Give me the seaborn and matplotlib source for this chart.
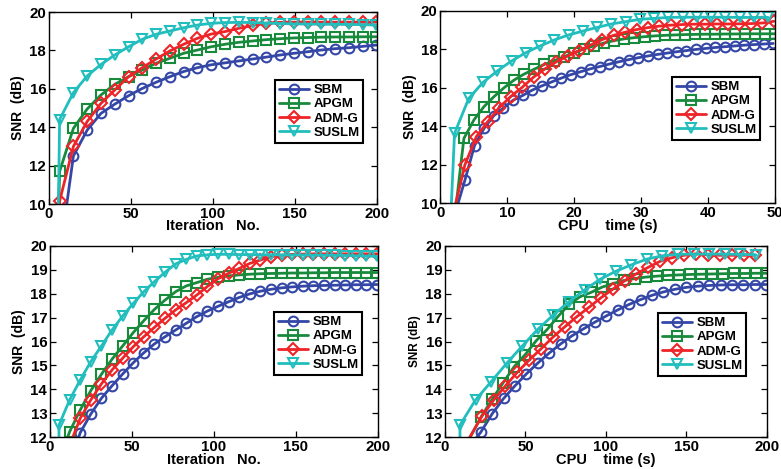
import numpy as np
import matplotlib
matplotlib.use("Agg")
import matplotlib.pyplot as plt
import seaborn as sns

# ---------------------------------------------------------------- data
methods = ["SBM", "APGM", "ADM-G", "SUSLM"]
colors = ["#3447a6", "#178a3c", "#ee2428", "#22bdbd"]
markers = ["o", "s", "D", "v"]

# (a) SNR vs iteration, image 1
it_a = np.round(6.5 + 8.4 * np.arange(24), 2)
snr_a_sbm = [7.3, 12.5, 13.85, 14.72, 15.2, 15.64, 16.02, 16.34, 16.63, 16.9, 17.1, 17.25,
             17.35, 17.45, 17.55, 17.65, 17.76, 17.85, 17.93, 18.02, 18.09, 18.14, 18.21, 18.28]
snr_a_apgm = [11.7, 13.94, 14.95, 15.68, 16.23, 16.63, 16.98, 17.33, 17.59, 17.85, 18.02, 18.19,
              18.32, 18.42, 18.49, 18.56, 18.61, 18.65, 18.67, 18.69, 18.7, 18.7, 18.71, 18.71]
snr_a_admg = [10.16, 13.0, 14.3, 15.24, 15.94, 16.63, 17.1, 17.55, 17.97, 18.32, 18.63, 18.85,
              18.98, 19.15, 19.3, 19.42, 19.46, 19.47, 19.47, 19.47, 19.47, 19.47, 19.47, 19.47]
snr_a_suslm = [14.4, 15.8, 16.67, 17.27, 17.76, 18.19, 18.58, 18.84, 19.01, 19.18, 19.32, 19.41,
               19.45, 19.46, 19.45, 19.42, 19.4, 19.38, 19.37, 19.36, 19.36, 19.35, 19.34, 19.32]
lead_a = [(6.0, 5.0), (5.6, 9.0), (6.0, 9.0), (5.6, 9.0)]

# (b) SNR vs CPU time, image 1
t_b_sbm = np.round(3.65 + 1.44 * np.arange(33), 2)
t_b_apgm = np.round(3.5 + 1.5 * np.arange(32), 2)
t_b_admg = np.round(3.65 + 1.71 * np.arange(28), 2)
t_b_suslm = np.round(2.1 + 2.13 * np.arange(23), 2)
snr_b_sbm = [11.2, 13.0, 13.9, 14.55, 14.95, 15.35, 15.6, 15.88, 16.1, 16.3, 16.5, 16.68, 16.83,
             16.98, 17.1, 17.23, 17.35, 17.46, 17.56, 17.65, 17.73, 17.8, 17.87, 17.93, 17.99,
             18.04, 18.09, 18.13, 18.17, 18.21, 18.24, 18.27, 18.3]
snr_b_apgm = [13.37, 14.33, 15.02, 15.54, 16.0, 16.4, 16.71, 16.96, 17.21, 17.4, 17.62, 17.82,
              18.02, 18.18, 18.33, 18.45, 18.54, 18.6, 18.65, 18.69, 18.72, 18.74, 18.76, 18.77,
              18.78, 18.78, 18.79, 18.79, 18.8, 18.8, 18.8, 18.8]
snr_b_admg = [12.0, 13.46, 14.24, 14.97, 15.54, 16.02, 16.55, 16.98, 17.35, 17.65, 17.93, 18.22,
              18.5, 18.72, 18.88, 19.02, 19.12, 19.2, 19.25, 19.28, 19.3, 19.3, 19.31, 19.31,
              19.32, 19.33, 19.36, 19.45]
snr_b_suslm = [13.63, 15.45, 16.28, 16.87, 17.39, 17.82, 18.17, 18.48, 18.74, 18.94, 19.13, 19.31,
               19.43, 19.55, 19.6, 19.65, 19.66, 19.66, 19.66, 19.66, 19.65, 19.65, 19.65]
lead_b = [(2.2, 9.5), (2.2, 9.5), (2.0, 9.6), (1.5, 9.0)]

# (c) SNR vs iteration, image 2
it_c = np.round(5.5 + 6.47 * np.arange(31), 2)
snr_c_sbm = [9.5, 10.8, 12.19, 12.97, 13.63, 14.15, 14.64, 15.11, 15.53, 15.9, 16.2, 16.48, 16.76,
             17.04, 17.27, 17.47, 17.66, 17.84, 17.99, 18.1, 18.18, 18.24, 18.28, 18.31, 18.33,
             18.34, 18.35, 18.36, 18.37, 18.37, 18.38]
snr_c_apgm = [11.0, 12.23, 13.14, 13.95, 14.63, 15.26, 15.81, 16.37, 16.87, 17.34, 17.73, 18.08,
              18.32, 18.46, 18.6, 18.68, 18.74, 18.78, 18.81, 18.83, 18.84, 18.85, 18.86, 18.86,
              18.87, 18.87, 18.88, 18.88, 18.88, 18.88, 18.88]
snr_c_admg = [10.5, 11.66, 12.79, 13.56, 14.23, 14.81, 15.3, 15.78, 16.2, 16.59, 16.97, 17.32,
              17.62, 17.94, 18.3, 18.62, 18.85, 19.05, 19.26, 19.4, 19.54, 19.6, 19.64, 19.65,
              19.66, 19.66, 19.66, 19.66, 19.66, 19.66, 19.66]
snr_c_suslm = [12.51, 13.56, 14.39, 15.16, 15.81, 16.48, 17.06, 17.59, 18.08, 18.5, 18.89, 19.24,
               19.43, 19.57, 19.62, 19.64, 19.64, 19.63, 19.63, 19.62, 19.62, 19.62, 19.61, 19.61,
               19.6, 19.6, 19.6, 19.59, 19.58, 19.57, 19.55]
lead_c = [(5.0, 9.0), (5.0, 9.0), (5.0, 9.0), (5.3, 9.0)]

# (d) SNR vs CPU time, image 2
t_d_sbm = np.round(22.2 + 7.1 * np.arange(26), 2)
t_d_apgm = np.round(22.5 + 6.83 * np.arange(27), 2)
t_d_admg = np.round(22.8 + 7.4 * np.arange(24), 2)
t_d_suslm = np.round(9.3 + 9.68 * np.arange(20), 2)
snr_d_sbm = [12.21, 12.98, 13.62, 14.15, 14.65, 15.1, 15.52, 15.9, 16.24, 16.53, 16.81, 17.07,
             17.32, 17.55, 17.75, 17.93, 18.07, 18.18, 18.26, 18.31, 18.34, 18.36, 18.37, 18.37,
             18.38, 18.38]
snr_d_apgm = [12.86, 13.59, 14.28, 14.95, 15.45, 16.03, 16.5, 17.05, 17.55, 17.87, 18.05, 18.27,
              18.42, 18.55, 18.63, 18.69, 18.73, 18.76, 18.78, 18.8, 18.81, 18.82, 18.83, 18.84,
              18.84, 18.85, 18.85]
snr_d_admg = [12.87, 13.55, 14.15, 14.72, 15.23, 15.7, 16.19, 16.62, 17.04, 17.42, 17.82, 18.18,
              18.53, 18.83, 19.1, 19.35, 19.5, 19.6, 19.66, 19.62, 19.6, 19.6, 19.6, 19.6]
snr_d_suslm = [12.51, 13.56, 14.32, 15.09, 15.81, 16.51, 17.11, 17.66, 18.15, 18.6, 18.93, 19.2,
               19.44, 19.58, 19.64, 19.65, 19.65, 19.65, 19.64, 19.62]
lead_d = [(15.0, 11.6), (10.0, 11.3), (12.0, 11.6), (9.2, 9.0)]

panels = [
    dict(rect=[0.0627, 0.565, 0.42, 0.4094],
         xs=[it_a] * 4, ys=[snr_a_sbm, snr_a_apgm, snr_a_admg, snr_a_suslm], lead=lead_a,
         xlim=(0, 200), xticks=[0, 50, 100, 150, 200], ylim=(10, 20), yticks=range(10, 21, 2),
         xlabel="Iteration   No.", ylabel="SNR  (dB)", ylsize=10, leg=(0.689, 0.646)),
    dict(rect=[0.564, 0.5665, 0.4283, 0.4107],
         xs=[t_b_sbm, t_b_apgm, t_b_admg, t_b_suslm],
         ys=[snr_b_sbm, snr_b_apgm, snr_b_admg, snr_b_suslm], lead=lead_b,
         xlim=(0, 50), xticks=[0, 10, 20, 30, 40, 50], ylim=(10, 20), yticks=range(10, 21, 2),
         xlabel="CPU    time (s)", ylabel="SNR  (dB)", ylsize=10, leg=(0.692, 0.656)),
    dict(rect=[0.064, 0.0676, 0.4196, 0.4085],
         xs=[it_c] * 4, ys=[snr_c_sbm, snr_c_apgm, snr_c_admg, snr_c_suslm], lead=lead_c,
         xlim=(0, 200), xticks=[0, 50, 100, 150, 200], ylim=(12, 20), yticks=range(12, 21),
         xlabel="Iteration   No.", ylabel="SNR  (dB)", ylsize=10, leg=(0.684, 0.654)),
    dict(rect=[0.5698, 0.0676, 0.4119, 0.4085],
         xs=[t_d_sbm, t_d_apgm, t_d_admg, t_d_suslm],
         ys=[snr_d_sbm, snr_d_apgm, snr_d_admg, snr_d_suslm], lead=lead_d,
         xlim=(0, 200), xticks=[0, 50, 100, 150, 200], ylim=(12, 20), yticks=range(12, 21),
         xlabel="CPU    time (s)", ylabel="SNR (dB)", ylsize=8.5, leg=(0.662, 0.649)),
]

# ---------------------------------------------------------------- style
sns.set_style("ticks")
plt.rcParams.update({
    "font.family": ["Liberation Sans", "DejaVu Sans"],
    "font.weight": "bold",
    "axes.labelweight": "bold",
    "text.color": "black",
    "axes.labelcolor": "black",
    "axes.edgecolor": "black",
    "axes.linewidth": 1.0,
    "xtick.direction": "in",
    "ytick.direction": "in",
    "xtick.top": True,
    "ytick.right": True,
    "xtick.major.size": 4,
    "ytick.major.size": 4,
    "xtick.major.width": 0.9,
    "ytick.major.width": 0.9,
    "xtick.color": "black",
    "ytick.color": "black",
    "xtick.labelcolor": "black",
    "ytick.labelcolor": "black",
    "legend.numpoints": 1,
})

fig = plt.figure(figsize=(7.81, 4.69), dpi=100)

for p in panels:
    ax = fig.add_axes(p["rect"])
    for name, col, mk, x, y, (lx, ly) in zip(methods, colors, markers, p["xs"], p["ys"], p["lead"]):
        xx = np.concatenate([[lx], x])
        yy = np.concatenate([[ly], y])
        sns.lineplot(x=xx, y=yy, ax=ax, sort=False, color=col, linewidth=2.0,
                     marker=mk, markersize=7.0 if mk != "D" else 6.0,
                     markerfacecolor="none", markeredgecolor=col, markeredgewidth=1.5,
                     markevery=slice(1, None), label=name, legend=False)
    ax.set_xlim(*p["xlim"])
    ax.set_ylim(*p["ylim"])
    ax.set_xticks(p["xticks"])
    ax.set_yticks(list(p["yticks"]))
    ax.tick_params(labelsize=10.8, pad=2)
    for lab in ax.get_xticklabels() + ax.get_yticklabels():
        lab.set_fontweight("bold")
    ax.set_xlabel(p["xlabel"], fontsize=10.5, fontweight="bold", labelpad=-1)
    ax.set_ylabel(p["ylabel"], fontsize=p["ylsize"], fontweight="bold", labelpad=3)
    leg = ax.legend(loc="upper left", bbox_to_anchor=p["leg"], borderaxespad=0,
                    fancybox=False, framealpha=1, edgecolor="black",
                    prop={"weight": "bold", "size": 9.5},
                    handlelength=2.3, handletextpad=0.3, borderpad=0.3,
                    labelspacing=0.15)
    leg.get_frame().set_linewidth(1.5)

fig.savefig("out.png", dpi=100)
